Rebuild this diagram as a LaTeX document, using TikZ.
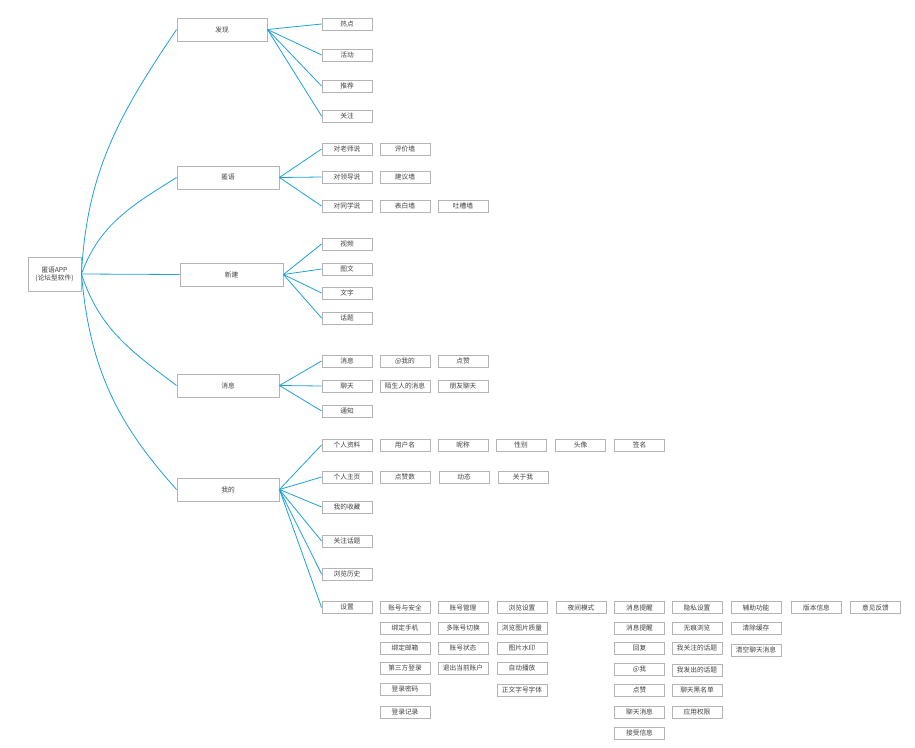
\documentclass[tikz,border=0pt]{standalone}
\usepackage{xcolor}
\usepackage{fontspec}
\setmainfont{Noto Sans CJK SC}
\usepackage{tikz}

\definecolor{lineblue}{HTML}{1DA1D8}
\definecolor{boxgray}{HTML}{B4B4B4}
\definecolor{txtgray}{HTML}{404040}

\begin{document}
\begin{tikzpicture}[x=1pt,y=1pt,yscale=-1,xscale=1,
  every node/.style={font=\fontsize{6.7}{8}\selectfont,text=txtgray},
  rootbox/.style={draw=boxgray,line width=0.9,minimum width=53,minimum height=34,inner sep=0,align=center},
  mainbox/.style={draw=boxgray,line width=0.9,minimum width=102,minimum height=23,inner sep=0},
  leaf/.style={draw=boxgray,line width=0.9,minimum width=50,minimum height=12,inner sep=0},
  link/.style={draw=lineblue,line width=0.8}]
\useasboundingbox (0,0) rectangle (915,747);
% root and main branches
\node [rootbox] (app) at (54.5,274) {匿语APP\\(论坛型软件)};
\node [mainbox,minimum width=90] (fx) at (222,29.5) {发现};
\node [mainbox] (ny) at (228,177.5) {匿语};
\node [mainbox,minimum width=103] (xj) at (231.5,274.5) {新建};
\node [mainbox] (xx) at (228,385.5) {消息};
\node [mainbox] (wd) at (228,489.5) {我的};
\draw [link] (app.east) to[out=-87,in=124] (fx.west);
\draw [link] (app.east) to[out=-70,in=148] (ny.west);
\draw [link] (app.east) -- (xj.west);
\draw [link] (app.east) to[out=72,in=217] (xx.west);
\draw [link] (app.east) to[out=85,in=228] (wd.west);
% 发现
\node [leaf] (rd) at (347,24) {热点};
\node [leaf] (hd) at (347,55) {活动};
\node [leaf] (tj) at (347,86) {推荐};
\node [leaf] (gz) at (347,116) {关注};
\draw [link] (fx.east) -- (rd.west);
\draw [link] (fx.east) -- (hd.west);
\draw [link] (fx.east) -- (tj.west);
\draw [link] (fx.east) -- (gz.west);
% 匿语
\node [leaf] (dls) at (347,149) {对老师说};
\node [leaf] (dld) at (347,177) {对领导说};
\node [leaf] (dtx) at (347,206) {对同学说};
\node [leaf] (pjq) at (405,149) {评价墙};
\node [leaf] (jyq) at (405,177) {建议墙};
\node [leaf] (bbq) at (405,206) {表白墙};
\node [leaf] (tcq) at (463,206) {吐槽墙};
\draw [link] (ny.east) -- (dls.west);
\draw [link] (ny.east) -- (dld.west);
\draw [link] (ny.east) -- (dtx.west);
% 新建
\node [leaf] (sp) at (347,244) {视频};
\node [leaf] (tw) at (347,269) {图文};
\node [leaf] (wz) at (347,293) {文字};
\node [leaf] (ht) at (347,318) {话题};
\draw [link] (xj.east) -- (sp.west);
\draw [link] (xj.east) -- (tw.west);
\draw [link] (xj.east) -- (wz.west);
\draw [link] (xj.east) -- (ht.west);
% 消息
\node [leaf] (xxa) at (347,361) {消息};
\node [leaf] (lt) at (347,386) {聊天};
\node [leaf] (tz) at (347,411) {通知};
\node [leaf] (atwd) at (405,361) {@我的};
\node [leaf] (dz) at (463,361) {点赞};
\node [leaf] (msr) at (405,386) {陌生人的消息};
\node [leaf] (pylt) at (463,386) {朋友聊天};
\draw [link] (xx.east) -- (xxa.west);
\draw [link] (xx.east) -- (lt.west);
\draw [link] (xx.east) -- (tz.west);
% 我的
\node [leaf] (grzl) at (347,445) {个人资料};
\node [leaf] (grzy) at (347,477) {个人主页};
\node [leaf] (wdsc) at (347,507) {我的收藏};
\node [leaf] (gzht) at (347,541) {关注话题};
\node [leaf] (llls) at (347,574) {浏览历史};
\node [leaf] (sz) at (347,607.5) {设置};
\draw [link] (wd.east) -- (grzl.west);
\draw [link] (wd.east) -- (grzy.west);
\draw [link] (wd.east) -- (wdsc.west);
\draw [link] (wd.east) -- (gzht.west);
\draw [link] (wd.east) -- (llls.west);
\draw [link] (wd.east) -- (sz.west);
\node [leaf] (yhm) at (405,445) {用户名};
\node [leaf] (nc) at (463,445) {昵称};
\node [leaf] (xb) at (521,445) {性别};
\node [leaf] (tx) at (580.5,445) {头像};
\node [leaf] (qm) at (639.5,445) {签名};
\node [leaf] (dzs) at (405,477) {点赞数};
\node [leaf] (dt) at (464,477) {动态};
\node [leaf] (gyw) at (523,477) {关于我};
% 设置
\node [leaf] (zhaq) at (405,607.5) {账号与安全};
\node [leaf] (bdsj) at (405,628) {绑定手机};
\node [leaf] (bdyx) at (405,648) {绑定邮箱};
\node [leaf] (dsf) at (405,668) {第三方登录};
\node [leaf] (dlmm) at (405,689) {登录密码};
\node [leaf] (dljl) at (405,712) {登录记录};
\node [leaf] (zhgl) at (463,607.5) {账号管理};
\node [leaf] (dzh) at (463,628) {多账号切换};
\node [leaf] (zhzt) at (463,648) {账号状态};
\node [leaf] (tc) at (463,668) {退出当前账户};
\node [leaf] (llsz) at (522,607.5) {浏览设置};
\node [leaf] (tpzl) at (522,628) {浏览图片质量};
\node [leaf] (tpsy) at (522,648) {图片水印};
\node [leaf] (zdbf) at (522,668) {自动播放};
\node [leaf] (zwzh) at (522,690) {正文字号字体};
\node [leaf] (yjms) at (581,607.5) {夜间模式};
\node [leaf] (xxtx) at (639.5,607.5) {消息提醒};
\node [leaf] (xxtxb) at (639.5,628) {消息提醒};
\node [leaf] (hf) at (639.5,648) {回复};
\node [leaf] (atw) at (639.5,669) {@我};
\node [leaf] (dzb) at (639.5,690) {点赞};
\node [leaf] (ltxx) at (639.5,712) {聊天消息};
\node [leaf] (jsxx) at (639.5,733) {接受信息};
\node [leaf] (yssz) at (697,607.5) {隐私设置};
\node [leaf] (whll) at (697,628) {无痕浏览};
\node [leaf] (wgz) at (697,648) {我关注的话题};
\node [leaf] (wfc) at (697,670) {我发出的话题};
\node [leaf] (hmd) at (697,690) {聊天黑名单};
\node [leaf] (yyqx) at (697,712) {应用权限};
\node [leaf] (fzgn) at (756,607.5) {辅助功能};
\node [leaf] (qchc) at (756,628) {清除缓存};
\node [leaf] (qklt) at (756,650) {清空聊天消息};
\node [leaf] (bbxx) at (816.5,607.5) {版本信息};
\node [leaf] (yjfk) at (875.5,607.5) {意见反馈};
\end{tikzpicture}
\end{document}
